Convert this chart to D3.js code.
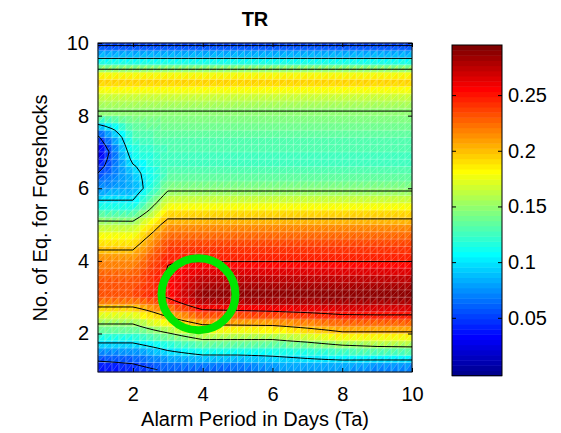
<!DOCTYPE html>
<html>
<head>
<meta charset="utf-8">
<script src="https://cdn.jsdelivr.net/npm/d3@7"></script>
<style>
body { margin: 0; background: #fff; }
text { font-family: "Liberation Sans", Arial, sans-serif; fill: #000; }
</style>
</head>
<body>
<div id="chart"></div>
<script>
var width = 561, height = 433;

// knots of the TR table: alarm period Ta (days) across, number of foreshocks down
var alarmDays = [1, 2, 3, 4, 5, 6, 7, 8, 9, 10];
var foreshockCounts = [1, 1.5, 2, 2.5, 3, 3.5, 4, 4.5, 5, 5.5, 6, 6.5, 7, 7.5, 8, 8.5, 9, 9.5, 10];
// one row per foreshock count, one value per alarm day
var trValues = [
  [0.028, 0.038, 0.055, 0.055, 0.056, 0.070, 0.075, 0.071, 0.062, 0.060],
  [0.074, 0.074, 0.096, 0.110, 0.110, 0.110, 0.115, 0.125, 0.132, 0.134],
  [0.128, 0.128, 0.148, 0.170, 0.170, 0.170, 0.182, 0.195, 0.195, 0.195],
  [0.170, 0.170, 0.205, 0.232, 0.235, 0.238, 0.243, 0.249, 0.250, 0.250],
  [0.235, 0.235, 0.252, 0.290, 0.291, 0.292, 0.292, 0.292, 0.292, 0.292],
  [0.232, 0.232, 0.253, 0.275, 0.275, 0.275, 0.275, 0.275, 0.275, 0.275],
  [0.215, 0.215, 0.249, 0.249, 0.249, 0.249, 0.249, 0.249, 0.249, 0.249],
  [0.190, 0.190, 0.235, 0.235, 0.235, 0.235, 0.235, 0.235, 0.235, 0.235],
  [0.159, 0.159, 0.210, 0.210, 0.210, 0.210, 0.210, 0.210, 0.210, 0.210],
  [0.113, 0.110, 0.178, 0.178, 0.178, 0.178, 0.178, 0.178, 0.178, 0.178],
  [0.075, 0.081, 0.145, 0.145, 0.145, 0.145, 0.145, 0.145, 0.145, 0.145],
  [0.045, 0.093, 0.128, 0.128, 0.128, 0.128, 0.128, 0.128, 0.128, 0.128],
  [0.020, 0.114, 0.127, 0.127, 0.127, 0.127, 0.127, 0.127, 0.127, 0.127],
  [0.052, 0.128, 0.135, 0.135, 0.135, 0.135, 0.135, 0.135, 0.135, 0.135],
  [0.145, 0.145, 0.145, 0.145, 0.145, 0.145, 0.145, 0.145, 0.145, 0.145],
  [0.165, 0.165, 0.165, 0.165, 0.165, 0.165, 0.165, 0.165, 0.165, 0.165],
  [0.200, 0.200, 0.200, 0.200, 0.200, 0.200, 0.200, 0.200, 0.200, 0.200],
  [0.110, 0.110, 0.110, 0.110, 0.110, 0.110, 0.110, 0.110, 0.110, 0.110],
  [0.040, 0.040, 0.040, 0.040, 0.040, 0.040, 0.040, 0.040, 0.040, 0.040]
];
var contourLevels = [0.05, 0.1, 0.15, 0.2, 0.25];
var xTicks = [2, 4, 6, 8, 10];
var yTicks = [2, 4, 6, 8, 10];
var colorTicks = [0.05, 0.1, 0.15, 0.2, 0.25];
var colorLimits = [-0.002, 0.295];
var marked = {days: 3.88, count: 3.08};

var svg = d3.select("#chart").append("svg")
  .attr("width", width)
  .attr("height", height);

var x = d3.scaleLinear().domain([1, 10]).range([98, 412]);
var y = d3.scaleLinear().domain([0.94, 10]).range([372, 43]);

// matlab jet(64)
function jet(k) {
  var t = k / 64;
  function c(v) { return Math.max(0, Math.min(1, v)) * 255; }
  return d3.rgb(c(Math.min(4 * t - 1.5, -4 * t + 4.5)),
                c(Math.min(4 * t - 0.5, -4 * t + 3.5)),
                c(Math.min(4 * t + 0.5, -4 * t + 2.5))).toString();
}
var jetColors = d3.range(1, 65).map(jet);
var color = d3.scaleQuantize().domain(colorLimits).range(jetColors);

// shaded surface between the table knots
function trAt(d, n) {
  n = Math.max(n, foreshockCounts[0]);
  var i = Math.max(0, Math.min(d3.bisectRight(alarmDays, d + 1e-9) - 1, alarmDays.length - 2));
  var j = Math.max(0, Math.min(d3.bisectRight(foreshockCounts, n + 1e-9) - 1, foreshockCounts.length - 2));
  var tx = (d - alarmDays[i]) / (alarmDays[i + 1] - alarmDays[i]);
  var ty = (n - foreshockCounts[j]) / (foreshockCounts[j + 1] - foreshockCounts[j]);
  var r0 = trValues[j], r1 = trValues[j + 1];
  return (1 - ty) * ((1 - tx) * r0[i] + tx * r0[i + 1]) + ty * ((1 - tx) * r1[i] + tx * r1[i + 1]);
}

var step = 0.2, nx = 46, ny = 46;
var gx = d3.range(nx).map(function(i) { return 1 + i * step; });
var gy = d3.range(ny).map(function(j) { return 1 + j * step; });
var grid = [];
gy.forEach(function(n) { gx.forEach(function(d) { grid.push(trAt(d, n)); }); });

function px(i) { return x(gx[i]); }
function py(j) { return j === 0 ? y(0.94) : y(gy[j]); }
function val(i, j) { return grid[i + j * nx]; }

var tris = [];
for (var j = 0; j < ny - 1; j++) {
  for (var i = 0; i < nx - 1; i++) {
    tris.push({pts: [[i, j], [i, j + 1], [i + 1, j + 1]]});
    tris.push({pts: [[i, j], [i + 1, j], [i + 1, j + 1]]});
  }
}
tris.forEach(function(t) {
  t.v = d3.mean(t.pts, function(p) { return val(p[0], p[1]); });
});

var surface = svg.append("g").attr("class", "surface");
surface.selectAll("path")
  .data(tris)
  .enter().append("path")
  .attr("d", function(t) {
    return "M" + t.pts.map(function(p) { return px(p[0]) + "," + py(p[1]); }).join("L") + "Z";
  })
  .attr("fill", function(t) { return color(t.v); })
  .attr("stroke", function(t) { return color(t.v); })
  .attr("stroke-width", 0.5);

// faceted mesh
var mesh = svg.append("g")
  .attr("stroke", "#fff")
  .attr("stroke-width", 0.8);
mesh.selectAll("line.v").data(d3.range(nx)).enter().append("line")
  .attr("stroke-opacity", 0.35)
  .attr("x1", px).attr("x2", px).attr("y1", py(0)).attr("y2", py(ny - 1));
mesh.selectAll("line.h").data(d3.range(ny)).enter().append("line")
  .attr("stroke-opacity", 0.35)
  .attr("x1", px(0)).attr("x2", px(nx - 1))
  .attr("y1", function(j) { return py(j); }).attr("y2", function(j) { return py(j); });
var diag = [];
for (var j2 = 0; j2 < ny - 1; j2++) for (var i2 = 0; i2 < nx - 1; i2++) diag.push([i2, j2]);
mesh.append("path")
  .attr("stroke-opacity", 0.22)
  .attr("stroke-width", 0.7)
  .attr("d", diag.map(function(c) {
    return "M" + px(c[0]) + "," + py(c[1]) + "L" + px(c[0] + 1) + "," + py(c[1] + 1);
  }).join(""));

// contour lines
svg.append("clipPath").attr("id", "plotClip")
  .append("rect")
  .attr("x", x(1)).attr("y", y(10))
  .attr("width", x(10) - x(1)).attr("height", y(1) - y(10));

var contours = d3.contours().size([nx, ny]).thresholds(contourLevels)(grid);
var proj = d3.geoTransform({
  point: function(cx, cy) {
    this.stream.point(x(1 + (cx - 0.5) * step), y(1 + (cy - 0.5) * step));
  }
});
svg.append("g")
  .attr("clip-path", "url(#plotClip)")
  .selectAll("path")
  .data(contours)
  .enter().append("path")
  .attr("d", d3.geoPath(proj))
  .attr("fill", "none")
  .attr("stroke", "#000")
  .attr("stroke-width", 1);

// marked optimum
svg.append("ellipse")
  .attr("cx", x(marked.days))
  .attr("cy", y(marked.count))
  .attr("rx", 37)
  .attr("ry", 36)
  .attr("fill", "none")
  .attr("stroke", "#00e600")
  .attr("stroke-width", 8);

// axes
svg.append("rect")
  .attr("x", 98).attr("y", 43).attr("width", 314).attr("height", 329)
  .attr("fill", "none").attr("stroke", "#000").attr("stroke-width", 1);

function styleAxis(g) {
  g.select(".domain").remove();
  g.attr("font-size", 20).attr("font-family", "'Liberation Sans', Arial, sans-serif");
}

svg.append("g").attr("transform", "translate(0,372)")
  .call(d3.axisBottom(x).tickValues(xTicks).tickSize(-4).tickPadding(15))
  .call(styleAxis);
svg.append("g").attr("transform", "translate(0,43)")
  .call(d3.axisTop(x).tickValues(xTicks).tickSize(-4).tickFormat(""))
  .call(styleAxis);
svg.append("g").attr("transform", "translate(98,0)")
  .call(d3.axisLeft(y).tickValues(yTicks).tickSize(-4).tickPadding(9))
  .call(styleAxis);
svg.append("g").attr("transform", "translate(412,0)")
  .call(d3.axisRight(y).tickValues(yTicks).tickSize(-4).tickFormat(""))
  .call(styleAxis);

svg.append("text")
  .attr("x", 255).attr("y", 26)
  .attr("text-anchor", "middle")
  .attr("font-size", 20).attr("font-weight", "bold")
  .text("TR");

svg.append("text")
  .attr("x", 255).attr("y", 426)
  .attr("text-anchor", "middle")
  .attr("font-size", 20)
  .text("Alarm Period in Days (Ta)");

svg.append("text")
  .attr("transform", "translate(47,208) rotate(-90)")
  .attr("text-anchor", "middle")
  .attr("font-size", 20)
  .text("No. of Eq. for Foreshocks");

// colorbar
var cy = d3.scaleLinear().domain(colorLimits).range([375.7, 45]);
var cw = (colorLimits[1] - colorLimits[0]) / 64;
svg.append("g").selectAll("rect")
  .data(jetColors)
  .enter().append("rect")
  .attr("x", 452)
  .attr("width", 50)
  .attr("y", function(c, k) { return cy(colorLimits[0] + (k + 1) * cw); })
  .attr("height", function(c, k) { return cy(colorLimits[0] + k * cw) - cy(colorLimits[0] + (k + 1) * cw) + 0.5; })
  .attr("fill", function(c) { return c; });

svg.append("rect")
  .attr("x", 452).attr("y", 45).attr("width", 50).attr("height", 330.7)
  .attr("fill", "none").attr("stroke", "#000").attr("stroke-width", 1);

svg.append("g").attr("transform", "translate(502,0)")
  .call(d3.axisRight(cy).tickValues(colorTicks).tickSize(-4).tickPadding(6)
    .tickFormat(function(d) { return String(d); }))
  .call(styleAxis);
svg.append("g").attr("transform", "translate(452,0)")
  .call(d3.axisLeft(cy).tickValues(colorTicks).tickSize(-4).tickFormat(""))
  .call(styleAxis);
</script>
</body>
</html>
